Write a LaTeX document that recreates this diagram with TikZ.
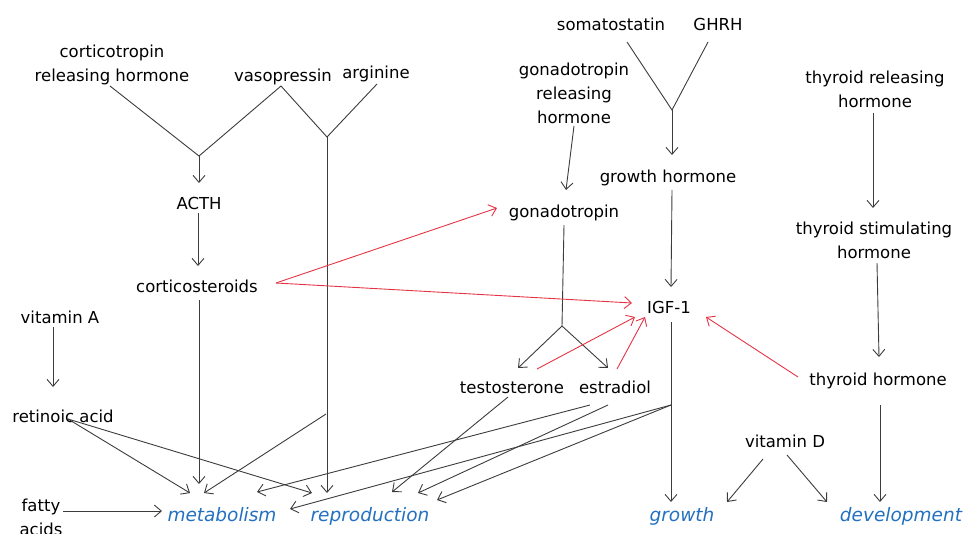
\documentclass[tikz,border=0pt]{standalone}
\usepackage{fontspec}
\setmainfont{DejaVu Sans}
\usetikzlibrary{arrows.meta}
\definecolor{lblue}{RGB}{35,112,192}
\definecolor{lred}{RGB}{228,52,68}
\definecolor{lgray}{RGB}{60,60,60}
\begin{document}
\begin{tikzpicture}[x=1pt,y=-1pt,
  txt/.style={font=\fontsize{16.5}{24}\selectfont, text=black, inner sep=0pt, anchor=base, align=center},
  outc/.style={font=\fontsize{18.5}{24}\selectfont\itshape, text=lblue, inner sep=0pt, anchor=base},
  ln/.style={draw=lgray, line width=0.9pt},
  arr/.style={ln, -{Straight Barb[length=7pt,width=12pt]}},
  rarr/.style={draw=lred, line width=0.9pt, -{Straight Barb[length=7pt,width=12pt]}}]
\useasboundingbox (0,0) rectangle (965,533);

% ---------- text nodes (multi-line nodes: base = last line) ----------
\node[txt] (crh) at (112,81) {corticotropin\\releasing hormone};
\node[txt] (vaso) at (283,81) {vasopressin};
\node[txt] (argi) at (376,78) {arginine};
\node[txt] (acth) at (199,209) {ACTH};
\node[txt] (cort) at (197,292) {corticosteroids};
\node[txt] (vita) at (60,323) {vitamin A};
\node[txt] (reta) at (63,422) {retinoic acid};
\node[txt] (fatty) at (41,535) {fatty\\acids};
\node[txt] (soma) at (611,30) {somatostatin};
\node[txt] (ghrh) at (718,30) {GHRH};
\node[txt] (gnrh) at (574,123) {gonadotropin\\releasing\\hormone};
\node[txt] (gh) at (668,182) {growth hormone};
\node[txt] (gona) at (564,217) {gonadotropin};
\node[txt] (trh) at (875,107) {thyroid releasing\\hormone};
\node[txt] (tsh) at (874,258) {thyroid stimulating\\hormone};
\node[txt] (igf) at (669,313) {IGF-1};
\node[txt] (test) at (512,393) {testosterone};
\node[txt] (estr) at (615,393) {estradiol};
\node[txt] (th) at (878,385) {thyroid hormone};
\node[txt] (vitd) at (785,447) {vitamin D};
\node[outc] (meta) at (222,521) {metabolism};
\node[outc] (repr) at (370,521) {reproduction};
\node[outc] (grow) at (682,521) {growth};
\node[outc] (deve) at (901,521) {development};

% ---------- junctions and line ends ----------
\coordinate (crhS) at (110,86);
\coordinate (vasoS) at (281,86);
\coordinate (argS) at (377,84);
\coordinate (j1) at (199,156);
\coordinate (j2) at (327,137);
\coordinate (acthN) at (199,183);
\coordinate (acthS) at (198,213);
\coordinate (cortN) at (198,266);
\coordinate (cortS) at (199,300);
\coordinate (cortE) at (276,283);
\coordinate (b1) at (326,414);
\coordinate (vitaS) at (53,327);
\coordinate (retaN) at (53,387);
\coordinate (retaS) at (68,419);
\coordinate (fattyE) at (63,511);
\coordinate (metaA) at (190,493);
\coordinate (metaB) at (199,484);
\coordinate (metaC) at (204,493);
\coordinate (metaD) at (257,492);
\coordinate (metaE) at (290,509);
\coordinate (metaW) at (162,511);
\coordinate (reprA) at (312,493);
\coordinate (reprB) at (327,493);
\coordinate (reprC) at (392,492);
\coordinate (reprD) at (418,493);
\coordinate (reprE) at (437,500);
\coordinate (somaS) at (627,42);
\coordinate (ghrhS) at (708,42);
\coordinate (j3) at (672,110);
\coordinate (ghN) at (672,155);
\coordinate (gnrhS) at (574,126);
\coordinate (gonaN) at (566,190);
\coordinate (gonaW) at (497,208);
\coordinate (gonaS) at (564,225);
\coordinate (j4) at (562,326);
\coordinate (testN) at (518,368);
\coordinate (estrN) at (608,368);
\coordinate (testR) at (537,369);
\coordinate (estrR) at (617,369);
\coordinate (testS) at (508,397);
\coordinate (estrA) at (590,405);
\coordinate (estrB) at (608,405);
\coordinate (ghS) at (672,190);
\coordinate (igfN) at (671,287);
\coordinate (igfW) at (632,303);
\coordinate (igfA) at (635,317);
\coordinate (igfB) at (645,317);
\coordinate (igfE) at (706,317);
\coordinate (igfS) at (671,322);
\coordinate (b2) at (671,405);
\coordinate (growN) at (671,502);
\coordinate (thW) at (798,377);
\coordinate (trhS) at (873,113);
\coordinate (tshN) at (873,208);
\coordinate (tshS) at (877,263);
\coordinate (thN) at (879,357);
\coordinate (thS) at (880,405);
\coordinate (deveN) at (880,502);
\coordinate (vitdA) at (763,459);
\coordinate (vitdB) at (787,455);
\coordinate (growE) at (727,502);
\coordinate (deveW) at (827,502);

% ---------- black connectors ----------
\draw[ln] (crhS) -- (j1) -- (vasoS) -- (j2) -- (argS);
\draw[arr] (j1) -- (acthN);
\draw[arr] (acthS) -- (cortN);
\draw[arr] (j2) -- (reprB);
\draw[arr] (b1) -- (metaC);
\draw[arr] (cortS) -- (metaB);
\draw[arr] (vitaS) -- (retaN);
\draw[arr] (retaS) -- (metaA);
\draw[arr] (retaS) -- (reprA);
\draw[arr] (fattyE) -- (metaW);
\draw[ln] (somaS) -- (j3) -- (ghrhS);
\draw[arr] (j3) -- (ghN);
\draw[arr] (gnrhS) -- (gonaN);
\draw[ln] (gonaS) -- (j4);
\draw[arr] (j4) -- (testN);
\draw[arr] (j4) -- (estrN);
\draw[arr] (ghS) -- (igfN);
\draw[arr] (igfS) -- (growN);
\draw[arr] (b2) -- (metaE);
\draw[arr] (b2) -- (reprE);
\draw[arr] (estrA) -- (metaD);
\draw[arr] (estrB) -- (reprD);
\draw[arr] (testS) -- (reprC);
\draw[arr] (trhS) -- (tshN);
\draw[arr] (tshS) -- (thN);
\draw[arr] (thS) -- (deveN);
\draw[arr] (vitdA) -- (growE);
\draw[arr] (vitdB) -- (deveW);

% ---------- red connectors ----------
\draw[rarr] (cortE) -- (gonaW);
\draw[rarr] (cortE) -- (igfW);
\draw[rarr] (testR) -- (igfA);
\draw[rarr] (estrR) -- (igfB);
\draw[rarr] (thW) -- (igfE);
\end{tikzpicture}
\end{document}
